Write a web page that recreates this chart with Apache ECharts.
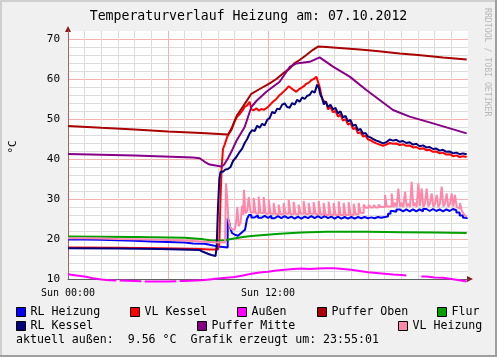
<!DOCTYPE html>
<html><head><meta charset="utf-8">
<script src="https://cdn.jsdelivr.net/npm/echarts@6/dist/echarts.min.js"></script>
<style>html,body{margin:0;padding:0;background:#f0f0f0}#c{width:497px;height:357px}</style>
</head><body><div id="c"></div><script>
// time in hours since Sun 00:00, value in °C
const rlHeizung = [[0,19.9],[1,19.8],[2,19.7],[3,19.55],[4,19.4],[5,19.25],[6,19.1],[7,18.9],[7.5,18.8],[8.2,18.4],[8.7,18.1],[9.0,18.0],[9.3,17.9],[9.58,25.2],[9.66,24.4],[9.74,22.7],[9.84,21.5],[9.94,21.0],[10.04,20.8],[10.2,21.3],[10.34,21.8],[10.48,22.3],[10.62,22.7],[10.74,25.0],[10.86,26.0],[11.0,25.4],[11.2,25.9],[11.4,25.3],[11.6,25.8],[11.8,25.3],[12.0,25.8],[12.2,25.2],[12.4,25.7],[12.6,25.2],[12.8,25.7],[13.0,25.2],[13.2,25.6],[13.4,25.1],[13.6,25.6],[13.8,25.1],[14.0,25.6],[14.2,25.2],[14.4,25.7],[14.6,25.2],[14.8,25.7],[15.0,25.2],[15.2,25.7],[15.4,25.2],[15.6,25.6],[15.8,25.1],[16.0,25.6],[16.2,25.1],[16.4,25.5],[16.6,25.1],[16.8,25.5],[17.0,25.1],[17.2,25.5],[17.4,25.2],[17.6,25.5],[17.8,25.2],[18.0,25.4],[18.2,25.2],[18.4,25.5],[18.6,25.3],[18.8,25.5],[19.0,25.6],[19.2,26.3],[19.35,27.0],[19.5,26.8],[19.7,27.4],[19.9,26.9],[20.1,27.4],[20.3,26.9],[20.5,27.4],[20.7,26.9],[20.9,27.4],[21.1,26.9],[21.3,27.5],[21.5,27.0],[21.7,27.5],[21.9,27.0],[22.1,27.4],[22.3,26.9],[22.5,27.4],[22.7,27.0],[22.9,27.5],[23.1,27.2],[23.3,26.6],[23.5,25.9],[23.7,25.3],[23.92,25.0]];
const vlKessel = [[0,17.9],[3,17.8],[5.5,17.7],[7.9,17.5],[8.5,17.4],[9.0,17.4],[9.08,19.0],[9.15,30.0],[9.22,38.0],[9.3,42.5],[9.4,43.6],[9.55,45.5],[9.7,46.8],[9.85,48.0],[10.0,49.4],[10.15,50.6],[10.3,51.2],[10.45,52.0],[10.6,53.0],[10.75,53.4],[10.9,54.3],[11.0,52.4],[11.15,52.2],[11.3,52.7],[11.45,52.1],[11.6,52.5],[11.75,52.3],[11.9,52.7],[12.05,53.2],[12.2,53.9],[12.35,54.5],[12.5,55.0],[12.65,55.8],[12.8,56.3],[12.95,56.9],[13.1,57.5],[13.25,58.2],[13.4,57.7],[13.55,57.2],[13.7,56.8],[13.85,57.4],[14.0,57.8],[14.15,58.2],[14.3,58.8],[14.45,59.1],[14.6,59.7],[14.75,60.0],[14.9,60.6],[15.0,60.3],[15.1,58.0],[15.2,56.0],[15.3,54.6],[15.4,55.0],[15.5,54.2],[15.6,52.4],[15.75,53.0],[15.9,51.7],[16.05,52.0],[16.2,50.6],[16.35,51.1],[16.5,49.6],[16.65,50.0],[16.8,48.6],[16.95,49.0],[17.1,47.5],[17.25,47.8],[17.4,46.4],[17.55,46.7],[17.7,45.6],[17.85,45.8],[18.0,44.9],[18.15,44.7],[18.3,44.3],[18.5,43.9],[18.7,43.6],[18.9,43.3],[19.1,43.6],[19.3,44.0],[19.5,43.8],[19.7,43.9],[19.9,43.5],[20.1,43.7],[20.3,43.3],[20.5,43.4],[20.7,42.9],[20.9,43.0],[21.1,42.5],[21.3,42.7],[21.5,42.2],[21.7,42.3],[21.9,41.8],[22.1,41.9],[22.3,41.4],[22.5,41.6],[22.7,41.1],[22.9,41.2],[23.1,40.7],[23.3,40.9],[23.5,40.5],[23.7,40.7],[23.92,40.5]];
const aussen = [[0,11.2],[0.5,10.9],[1,10.6],[1.5,10.2],[2,9.9],[2.5,9.7],[2.9,9.6],[3.0,null],[3.1,9.6],[4,9.5],[4.4,9.45],[4.5,null],[4.6,9.4],[5,9.4],[6,9.4],[6.5,9.45],[6.6,null],[6.7,9.5],[7,9.5],[8,9.7],[8.5,9.9],[9,10.1],[9.5,10.3],[10,10.5],[10.5,10.9],[11,11.3],[11.5,11.6],[12,11.8],[12.5,12.1],[13,12.3],[13.5,12.5],[14,12.6],[14.5,12.5],[15,12.6],[15.5,12.7],[16,12.7],[16.5,12.5],[17,12.3],[17.5,12.0],[18,11.7],[18.5,11.5],[19,11.3],[19.5,11.1],[20,11.0],[20.3,10.9],[20.5,null],[20.8,10.7],[21,null],[21.2,10.6],[21.5,10.6],[22,10.4],[22.5,10.3],[23,10.0],[23.5,9.7],[23.92,9.4]];
const pufferOben = [[0,48.25],[2,47.8],[4,47.4],[6,46.9],[8,46.5],[9.6,46.1],[9.8,47.2],[10.0,49.6],[10.15,51.0],[10.5,53.1],[11.0,56.3],[11.5,57.5],[12.1,58.9],[12.5,60.0],[12.9,61.4],[13.3,62.6],[13.6,64.0],[13.9,64.75],[14.3,66.0],[14.7,67.3],[15.0,68.1],[15.5,68.0],[16.5,67.7],[17.5,67.4],[18.5,67.0],[19.9,66.4],[21,66.0],[22.5,65.4],[23.92,64.9]];
const flur = [[0,20.6],[4,20.5],[7,20.3],[8,20.0],[8.6,19.6],[9.4,19.7],[9.8,20.0],[10.5,20.5],[11,20.75],[12.7,21.3],[14,21.6],[15.5,21.8],[18,21.8],[20,21.7],[22,21.6],[23.92,21.5]];
const rlKessel = [[0,17.7],[3,17.6],[5.5,17.5],[7.9,17.25],[8.1,16.8],[8.4,16.3],[8.6,16.0],[8.85,15.75],[8.92,18.0],[9.0,28.0],[9.08,35.0],[9.15,36.8],[9.3,36.8],[9.45,37.4],[9.6,37.5],[9.75,38.0],[9.9,39.5],[10.1,40.5],[10.3,41.8],[10.45,42.6],[10.6,44.0],[10.75,45.0],[10.9,46.4],[11.05,47.2],[11.2,47.0],[11.35,48.3],[11.5,47.8],[11.65,48.8],[11.8,48.4],[11.95,49.8],[12.1,50.2],[12.25,51.8],[12.4,51.4],[12.55,52.6],[12.7,52.4],[12.85,53.6],[13.0,53.9],[13.15,53.0],[13.3,52.8],[13.45,54.0],[13.6,53.6],[13.75,54.8],[13.9,54.3],[14.05,55.4],[14.2,55.0],[14.35,55.8],[14.5,56.0],[14.65,57.0],[14.8,56.6],[14.95,58.6],[15.05,57.8],[15.15,56.0],[15.25,55.2],[15.35,53.6],[15.45,54.4],[15.6,53.0],[15.75,53.6],[15.9,52.4],[16.05,52.8],[16.2,51.4],[16.35,51.9],[16.5,50.4],[16.65,50.8],[16.8,49.4],[16.95,49.8],[17.1,48.3],[17.25,48.6],[17.4,47.2],[17.55,47.5],[17.7,46.3],[17.85,46.5],[18.0,45.6],[18.15,45.4],[18.3,45.0],[18.5,44.6],[18.7,44.3],[18.9,43.9],[19.1,44.2],[19.3,44.9],[19.5,44.6],[19.7,44.8],[19.9,44.3],[20.1,44.5],[20.3,44.0],[20.5,44.2],[20.7,43.6],[20.9,43.8],[21.1,43.2],[21.3,43.4],[21.5,42.9],[21.7,43.0],[21.9,42.5],[22.1,42.6],[22.3,42.1],[22.5,42.3],[22.7,41.8],[22.9,41.9],[23.1,41.4],[23.3,41.6],[23.5,41.2],[23.7,41.4],[23.92,41.2]];
const pufferMitte = [[0,41.25],[4,40.9],[7.5,40.4],[7.9,40.2],[8.2,39.3],[8.5,38.6],[9.2,38.1],[9.35,38.5],[9.6,40.2],[9.8,41.8],[10.1,44.5],[10.6,48.0],[11.0,53.0],[11.3,54.5],[11.9,56.8],[12.7,59.3],[13.3,63.0],[13.7,63.9],[14.5,64.3],[15.1,65.4],[15.9,63.1],[16.9,60.6],[17.9,57.25],[18.7,54.75],[19.5,52.25],[20.5,50.6],[21.9,48.9],[23.92,46.4]];
const vlHeizung = [[0,20.2],[1,20.1],[2,20.0],[3,19.95],[4,19.9],[5,19.75],[6,19.6],[7,19.4],[8,19.2],[8.7,19.1],[9.42,19.0],[9.48,33.9],[9.56,29.5],[9.62,25.0],[9.7,23.3],[9.8,22.5],[9.9,22.3],[10.0,22.8],[10.08,24.0],[10.16,28.0],[10.24,23.2],[10.36,24.2],[10.44,28.3],[10.5,26.0],[10.56,32.3],[10.64,26.4],[10.76,27.0],
 [10.84,30.5],[10.96,26.6],[11.14,30.3],[11.26,26.4],[11.44,30.6],[11.56,26.5],[11.74,30.5],[11.86,26.3],[12.04,29.8],[12.16,26.3],[12.34,29.0],[12.46,26.2],[12.64,28.6],[12.76,26.2],[12.94,29.0],[13.06,26.3],[13.24,29.8],[13.36,26.2],[13.54,29.3],[13.66,26.2],[13.84,28.6],[13.96,26.3],[14.14,29.5],[14.26,26.2],[14.44,29.0],[14.56,26.3],[14.74,29.2],[14.86,26.2],[15.04,29.5],[15.16,26.1],[15.34,29.0],[15.46,26.0],[15.64,29.3],[15.76,26.0],[15.94,29.0],[16.06,26.0],[16.24,29.4],[16.36,26.0],[16.54,29.0],[16.66,26.0],[16.84,29.2],[16.96,26.0],[17.14,28.8],[17.26,26.2],[17.44,29.0],[17.56,26.5],[17.74,28.6],[17.86,27.8],[18.04,28.5],[18.16,27.9],[18.34,28.5],[18.46,27.9],[18.64,28.6],[18.76,28.0],
 [19.02,31.0],[19.12,28.1],[19.42,31.4],[19.52,28.0],[19.62,29.0],[19.72,28.0],[19.82,32.6],[19.92,28.1],[20.02,29.0],[20.12,28.0],[20.22,31.8],[20.32,28.1],[20.42,28.8],[20.52,28.0],[20.62,34.3],[20.72,28.2],[20.82,29.0],[20.92,28.0],[21.02,33.9],[21.12,28.2],[21.22,32.6],[21.32,28.0],[21.42,28.9],[21.52,32.6],[21.62,28.1],[21.72,28.9],[21.82,31.4],[21.92,28.0],[22.02,28.8],[22.12,31.0],[22.22,28.0],[22.32,28.9],[22.42,33.1],[22.52,28.1],[22.62,28.8],[22.72,31.4],[22.82,28.0],[22.92,28.8],[23.02,31.4],[23.12,28.1],[23.22,31.0],[23.32,28.0],[23.42,27.6],[23.52,29.0],[23.62,27.2],[23.72,26.4],[23.82,25.8],[23.92,25.6]];

const seriesNames = ['RL Heizung','VL Kessel','Außen','Puffer Oben','Flur','RL Kessel','Puffer Mitte','VL Heizung'];
const seriesColors = ['#0000ff','#ff0000','#ff00ff','#aa0000','#00a000','#000080','#880088','#ff88aa'];
const seriesStep = [true,false,false,false,false,false,false,true];
const seriesData = [rlHeizung, vlKessel, aussen, pufferOben, flur, rlKessel, pufferMitte, vlHeizung];
const xLabelHours = [0, 12];
const xLabelTexts = ['Sun 00:00', 'Sun 12:00'];
const titleText = 'Temperaturverlauf Heizung am: 07.10.2012';
const footerText = 'aktuell außen:  9.56 °C  Grafik erzeugt um: 23:55:01';

const MONO = 'DejaVu Sans Mono';
const MAJ = '#f5b0b0', MIN = '#dcdcdc', NONE = 'rgba(0,0,0,0)';
const legendPos = [[16,306],[130,306],[237,306],[317,306],[437,306],[16,320],[197,320],[398,320]];
// grid line colours per tick: majors every 6 h / 10 °C, none at the far edge
const xGridColors = Array.from({length:25}, (_,i)=> i===24 ? NONE : (i%6===0 ? MAJ : MIN));
const yGridColors = Array.from({length:32}, (_,i)=> i===31 ? NONE : (i%5===0 ? MAJ : MIN));

const chart = echarts.init(document.getElementById('c'), null, {renderer:'canvas'});
chart.setOption({
  animation:false,
  backgroundColor:'#f0f0f0',
  title:[
    {text:titleText, left:'center', top:10, padding:0, textStyle:{fontFamily:MONO, fontSize:13.2, fontWeight:'normal', color:'#000'}},
    {text:footerText, left:16, top:334, padding:0, textStyle:{fontFamily:MONO, fontSize:11.6, fontWeight:'normal', color:'#000'}}
  ],
  legend: seriesNames.map((n,i)=>({
    data:[n], left:legendPos[i][0], top:legendPos[i][1], padding:0, icon:'rect', itemWidth:9, itemHeight:9,
    itemStyle:{borderColor:'#000', borderWidth:1}, selectedMode:false,
    textStyle:{fontFamily:MONO, fontSize:11.6, color:'#000'}
  })),
  grid:{left:68, top:31, width:400, height:248, show:false, borderWidth:0},
  xAxis:{type:'value', min:0, max:24, interval:1,
    axisLine:{show:true, onZero:false, lineStyle:{color:'#606060', width:1}},
    axisTick:{show:false},
    axisLabel:{formatter:v=>{const i=xLabelHours.indexOf(v);return i>=0?xLabelTexts[i]:'';}, fontFamily:MONO, fontSize:10, color:'#000', margin:9, showMaxLabel:false},
    splitLine:{show:true, lineStyle:{color:xGridColors, width:1}}
  },
  yAxis:{type:'value', min:10, max:72, interval:2,
    axisLine:{show:true, lineStyle:{color:'#b06060', width:1}},
    axisTick:{show:false},
    axisLabel:{formatter:v=>(v%10===0 && v<=70)?String(v):'', fontFamily:MONO, fontSize:11, color:'#000', margin:8},
    splitLine:{show:true, lineStyle:{color:yGridColors, width:1}}
  },
  series: seriesNames.map((n,i)=>({
    name:n, type:'line', data:seriesData[i], showSymbol:false, symbol:'none', connectNulls:false,
    step: seriesStep[i] ? 'end' : false, clip: i!==2,
    lineStyle:{color:seriesColors[i], width:2}, itemStyle:{color:seriesColors[i]}, z:2+i*0.01
  }))
});

const pTop = chart.convertToPixel({gridIndex:0}, [0,72]);
const pRight = chart.convertToPixel({gridIndex:0}, [24,10]);
const pBL = chart.convertToPixel({gridIndex:0}, [0,10]);
chart.setOption({graphic:[
  {type:'rect', z:-10, shape:{x:pBL[0],y:pTop[1],width:pRight[0]-pBL[0],height:pBL[1]-pTop[1]}, style:{fill:'#ffffff'}, silent:true},
  {type:'rect', shape:{x:0,y:0,width:497,height:2}, style:{fill:'#cfcfcf'}, silent:true},
  {type:'rect', shape:{x:0,y:0,width:2,height:357}, style:{fill:'#cfcfcf'}, silent:true},
  {type:'rect', shape:{x:0,y:355,width:497,height:2}, style:{fill:'#9e9e9e'}, silent:true},
  {type:'rect', shape:{x:495,y:0,width:2,height:357}, style:{fill:'#9e9e9e'}, silent:true},
  {type:'polygon', shape:{points:[[pTop[0]-3,pTop[1]+1],[pTop[0]+3,pTop[1]+1],[pTop[0],pTop[1]-5]]}, style:{fill:'#8b1a1a'}, silent:true},
  {type:'polygon', shape:{points:[[pRight[0]-1,pRight[1]-3],[pRight[0]-1,pRight[1]+3],[pRight[0]+5,pRight[1]]]}, style:{fill:'#8b1a1a'}, silent:true},
  {type:'text', x:487, y:8, rotation:-Math.PI/2, style:{text:'RRDTOOL / TOBI OETIKER', font:'8.2px "DejaVu Sans Mono"', fill:'#b8b8b8', align:'left', verticalAlign:'middle'}, silent:true},
  {type:'text', x:13, y:147, rotation:Math.PI/2, style:{text:'°C', font:'11px "DejaVu Sans Mono"', fill:'#000', align:'center', verticalAlign:'middle'}, silent:true}
]});
</script></body></html>
